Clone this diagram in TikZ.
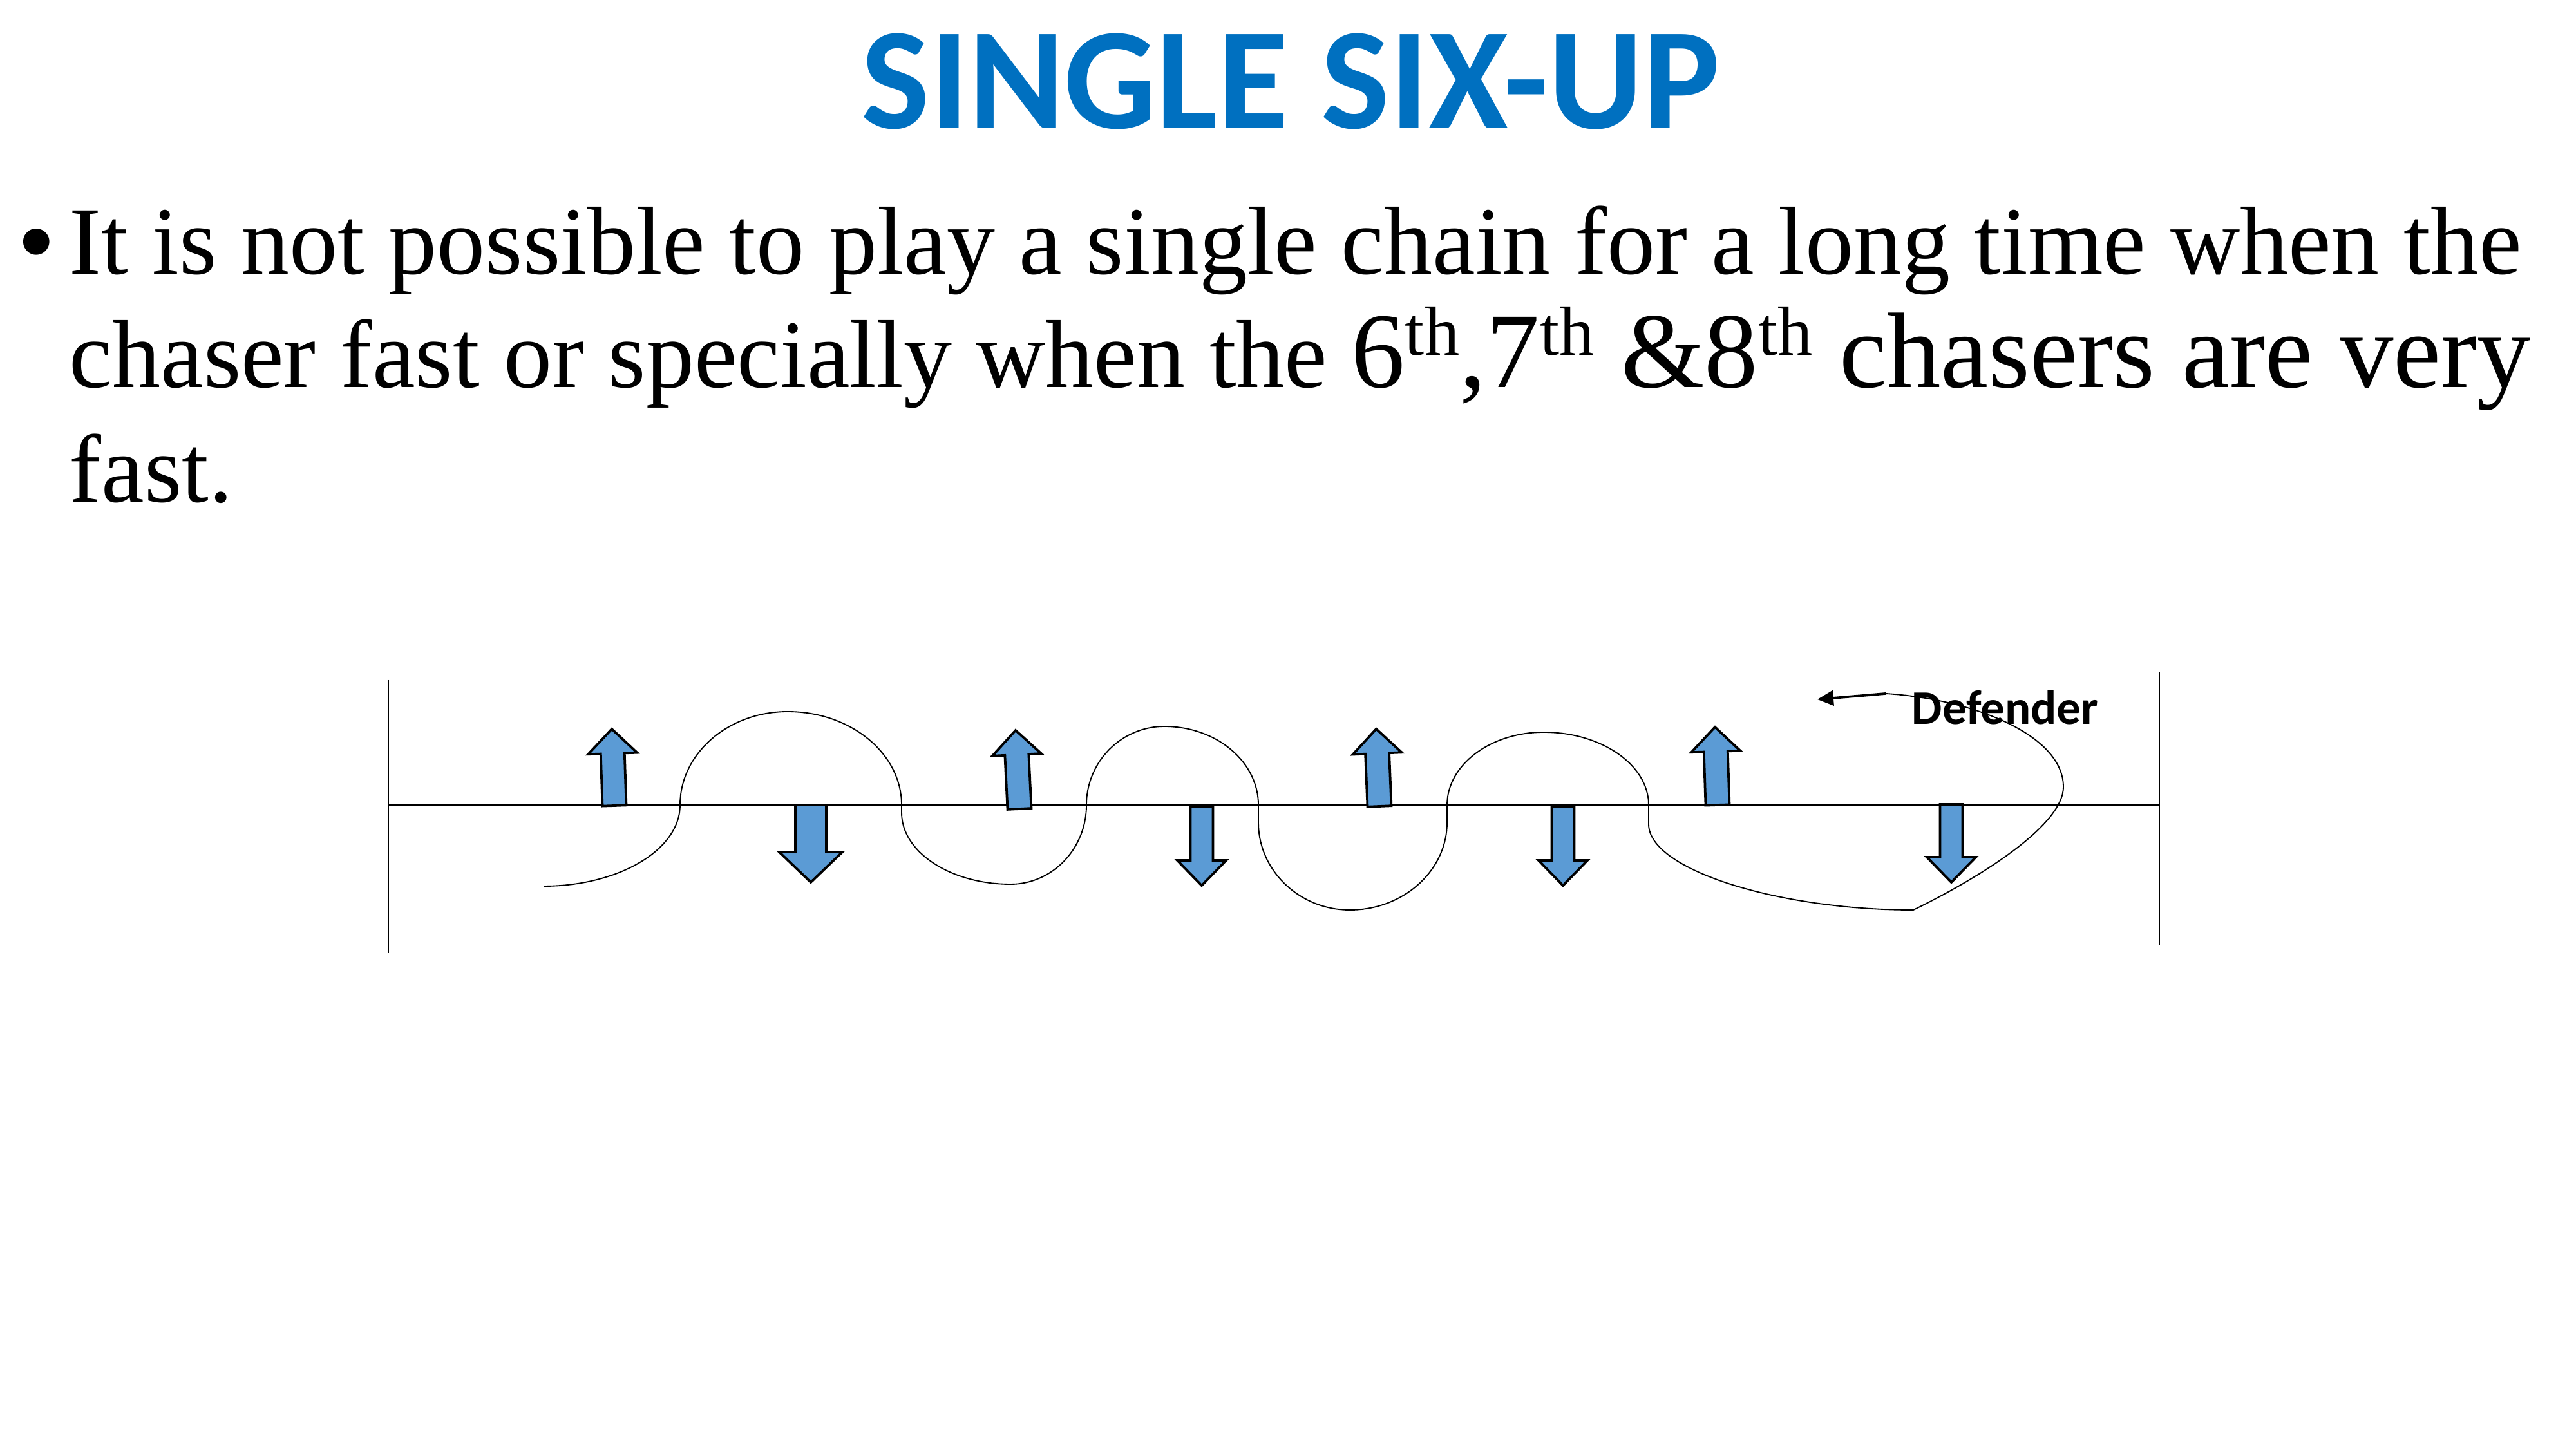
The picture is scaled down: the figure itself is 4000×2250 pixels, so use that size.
\documentclass[tikz,border=0pt]{standalone}
\usepackage{fontspec}
\setmainfont{Liberation Serif}
\newfontfamily\calibri{Carlito}
\newfontfamily\arialfont{Liberation Sans}
\usetikzlibrary{calc,arrows.meta}
\definecolor{titleblue}{RGB}{0,112,192}
\definecolor{arrowblue}{RGB}{91,155,213}
\newcommand\supth{\raisebox{12pt}{\fontsize{26}{26}\selectfont th}}
% #1 base coordinate, #2 tip coordinate, #3 shaft half width, #4 head half width, #5 head length
\newcommand\blockarr[5]{%
  \coordinate (#1h) at ($(#2)!#5!(#1)$);
  \draw[blockarrow]
    ($(#1)!#3!90:(#2)$) -- ($(#1h)!#3!90:(#2)$) -- ($(#1h)!#4!90:(#2)$) -- (#2)
    -- ($(#1h)!#4!-90:(#2)$) -- ($(#1h)!#3!-90:(#2)$) -- ($(#1)!#3!-90:(#2)$) -- cycle;}
\begin{document}
\begin{tikzpicture}[x=0.24pt,y=-0.24pt,
  titletext/.style={inner sep=0pt,anchor=base,text=titleblue,font=\calibri\bfseries\fontsize{54}{60}\selectfont},
  bodytext/.style={inner sep=0pt,anchor=base west,font=\fontsize{36}{43}\selectfont},
  labeltext/.style={inner sep=0pt,anchor=base west,font=\calibri\bfseries\fontsize{18}{20}\selectfont},
  fieldline/.style={line width=0.5pt,black},
  sideline/.style={line width=0.45pt,black},
  pathline/.style={line width=0.45pt,black},
  blockarrow/.style={draw=black,fill=arrowblue,line width=0.9pt,miter limit=10},
  defarrow/.style={line width=0.9pt,black,-{Triangle[length=6pt,width=5.6pt]}}]
\useasboundingbox (0,0) rectangle (4000,2250);

% title and bullet text
\node[titletext] (title) at (2004,200) {SINGLE SIX-UP};
\node[inner sep=0pt,anchor=base west,font=\arialfont\fontsize{36}{43}\selectfont] (bullet) at (30,425.5) {•};
\node[bodytext] (line1) at (107,425.5) {It is not possible to play a single chain for a long time when the};
\node[bodytext] (line2) at (107,601.6) {chaser fast or specially when the {\fontsize{40}{48}\selectfont 6\supth,7\supth{} \&8\supth{} chasers are very}};
\node[bodytext] (line3) at (107,780) {fast.};

% field
\coordinate (lt) at (602.6,1056);
\coordinate (lb) at (602.6,1480);
\coordinate (rt) at (3353,1044);
\coordinate (rb) at (3353,1467);
\coordinate (hl) at (602.6,1250);
\coordinate (hr) at (3353,1250);
\draw[sideline] (lt) -- (lb);
\draw[sideline] (rt) -- (rb);
\draw[fieldline] (hl) -- (hr);

% Defender label
\node[labeltext] (defender) at (2968,1125) {Defender};

% path of the chaser
\coordinate (c0) at (844,1376);
\coordinate (cend) at (2928,1077);
\coordinate (ctip) at (2822,1086);
\draw[pathline] (c0)
  .. controls (960,1376) and (1056,1320) .. (1056,1250)
  .. controls (1056,1170) and (1131,1105) .. (1223,1105)
  .. controls (1321,1105) and (1400,1170) .. (1400,1250)
  -- (1400,1262)
  .. controls (1400,1323) and (1476,1373) .. (1569,1373)
  .. controls (1634,1373) and (1687,1318) .. (1687,1250)
  .. controls (1687,1183) and (1741,1128) .. (1808,1128)
  .. controls (1889,1128) and (1954,1183) .. (1954,1250)
  -- (1954,1277)
  .. controls (1954,1352) and (2018,1413) .. (2096,1413)
  .. controls (2179,1413) and (2247,1352) .. (2247,1277)
  -- (2247,1250)
  .. controls (2247,1188) and (2314,1137) .. (2397,1137)
  .. controls (2487,1137) and (2560,1188) .. (2560,1250)
  -- (2560,1280)
  .. controls (2560,1350) and (2760,1413) .. (2971,1413)
  .. controls (3080,1360) and (3204,1280) .. (3204,1222)
  .. controls (3204,1140) and (3060,1085) .. (cend);
\draw[defarrow] (cend) -- (ctip);

% up arrows
\coordinate (u1) at (954,1251);  \coordinate (u1t) at (950,1132);
\coordinate (u2) at (1583,1256); \coordinate (u2t) at (1577,1134);
\coordinate (u3) at (2142,1252); \coordinate (u3t) at (2137,1132);
\coordinate (u4) at (2667,1250); \coordinate (u4t) at (2663,1129);
\blockarr{u1}{u1t}{4.44pt}{9.12pt}{9.12pt}
\blockarr{u2}{u2t}{4.44pt}{9.12pt}{9.12pt}
\blockarr{u3}{u3t}{4.44pt}{9.12pt}{9.12pt}
\blockarr{u4}{u4t}{4.44pt}{9.12pt}{9.12pt}

% down arrows
\coordinate (d1) at (1259,1250); \coordinate (d1t) at (1259,1370);
\coordinate (d2) at (1866,1253); \coordinate (d2t) at (1866,1375);
\coordinate (d3) at (2427,1252); \coordinate (d3t) at (2427,1375);
\coordinate (d4) at (3030,1249); \coordinate (d4t) at (3030,1370);
\blockarr{d1}{d1t}{5.76pt}{11.76pt}{11.28pt}
\blockarr{d2}{d2t}{4.2pt}{9.12pt}{9.36pt}
\blockarr{d3}{d3t}{4.2pt}{9.12pt}{9.36pt}
\blockarr{d4}{d4t}{4.2pt}{9.12pt}{9.36pt}
\end{tikzpicture}
\end{document}
